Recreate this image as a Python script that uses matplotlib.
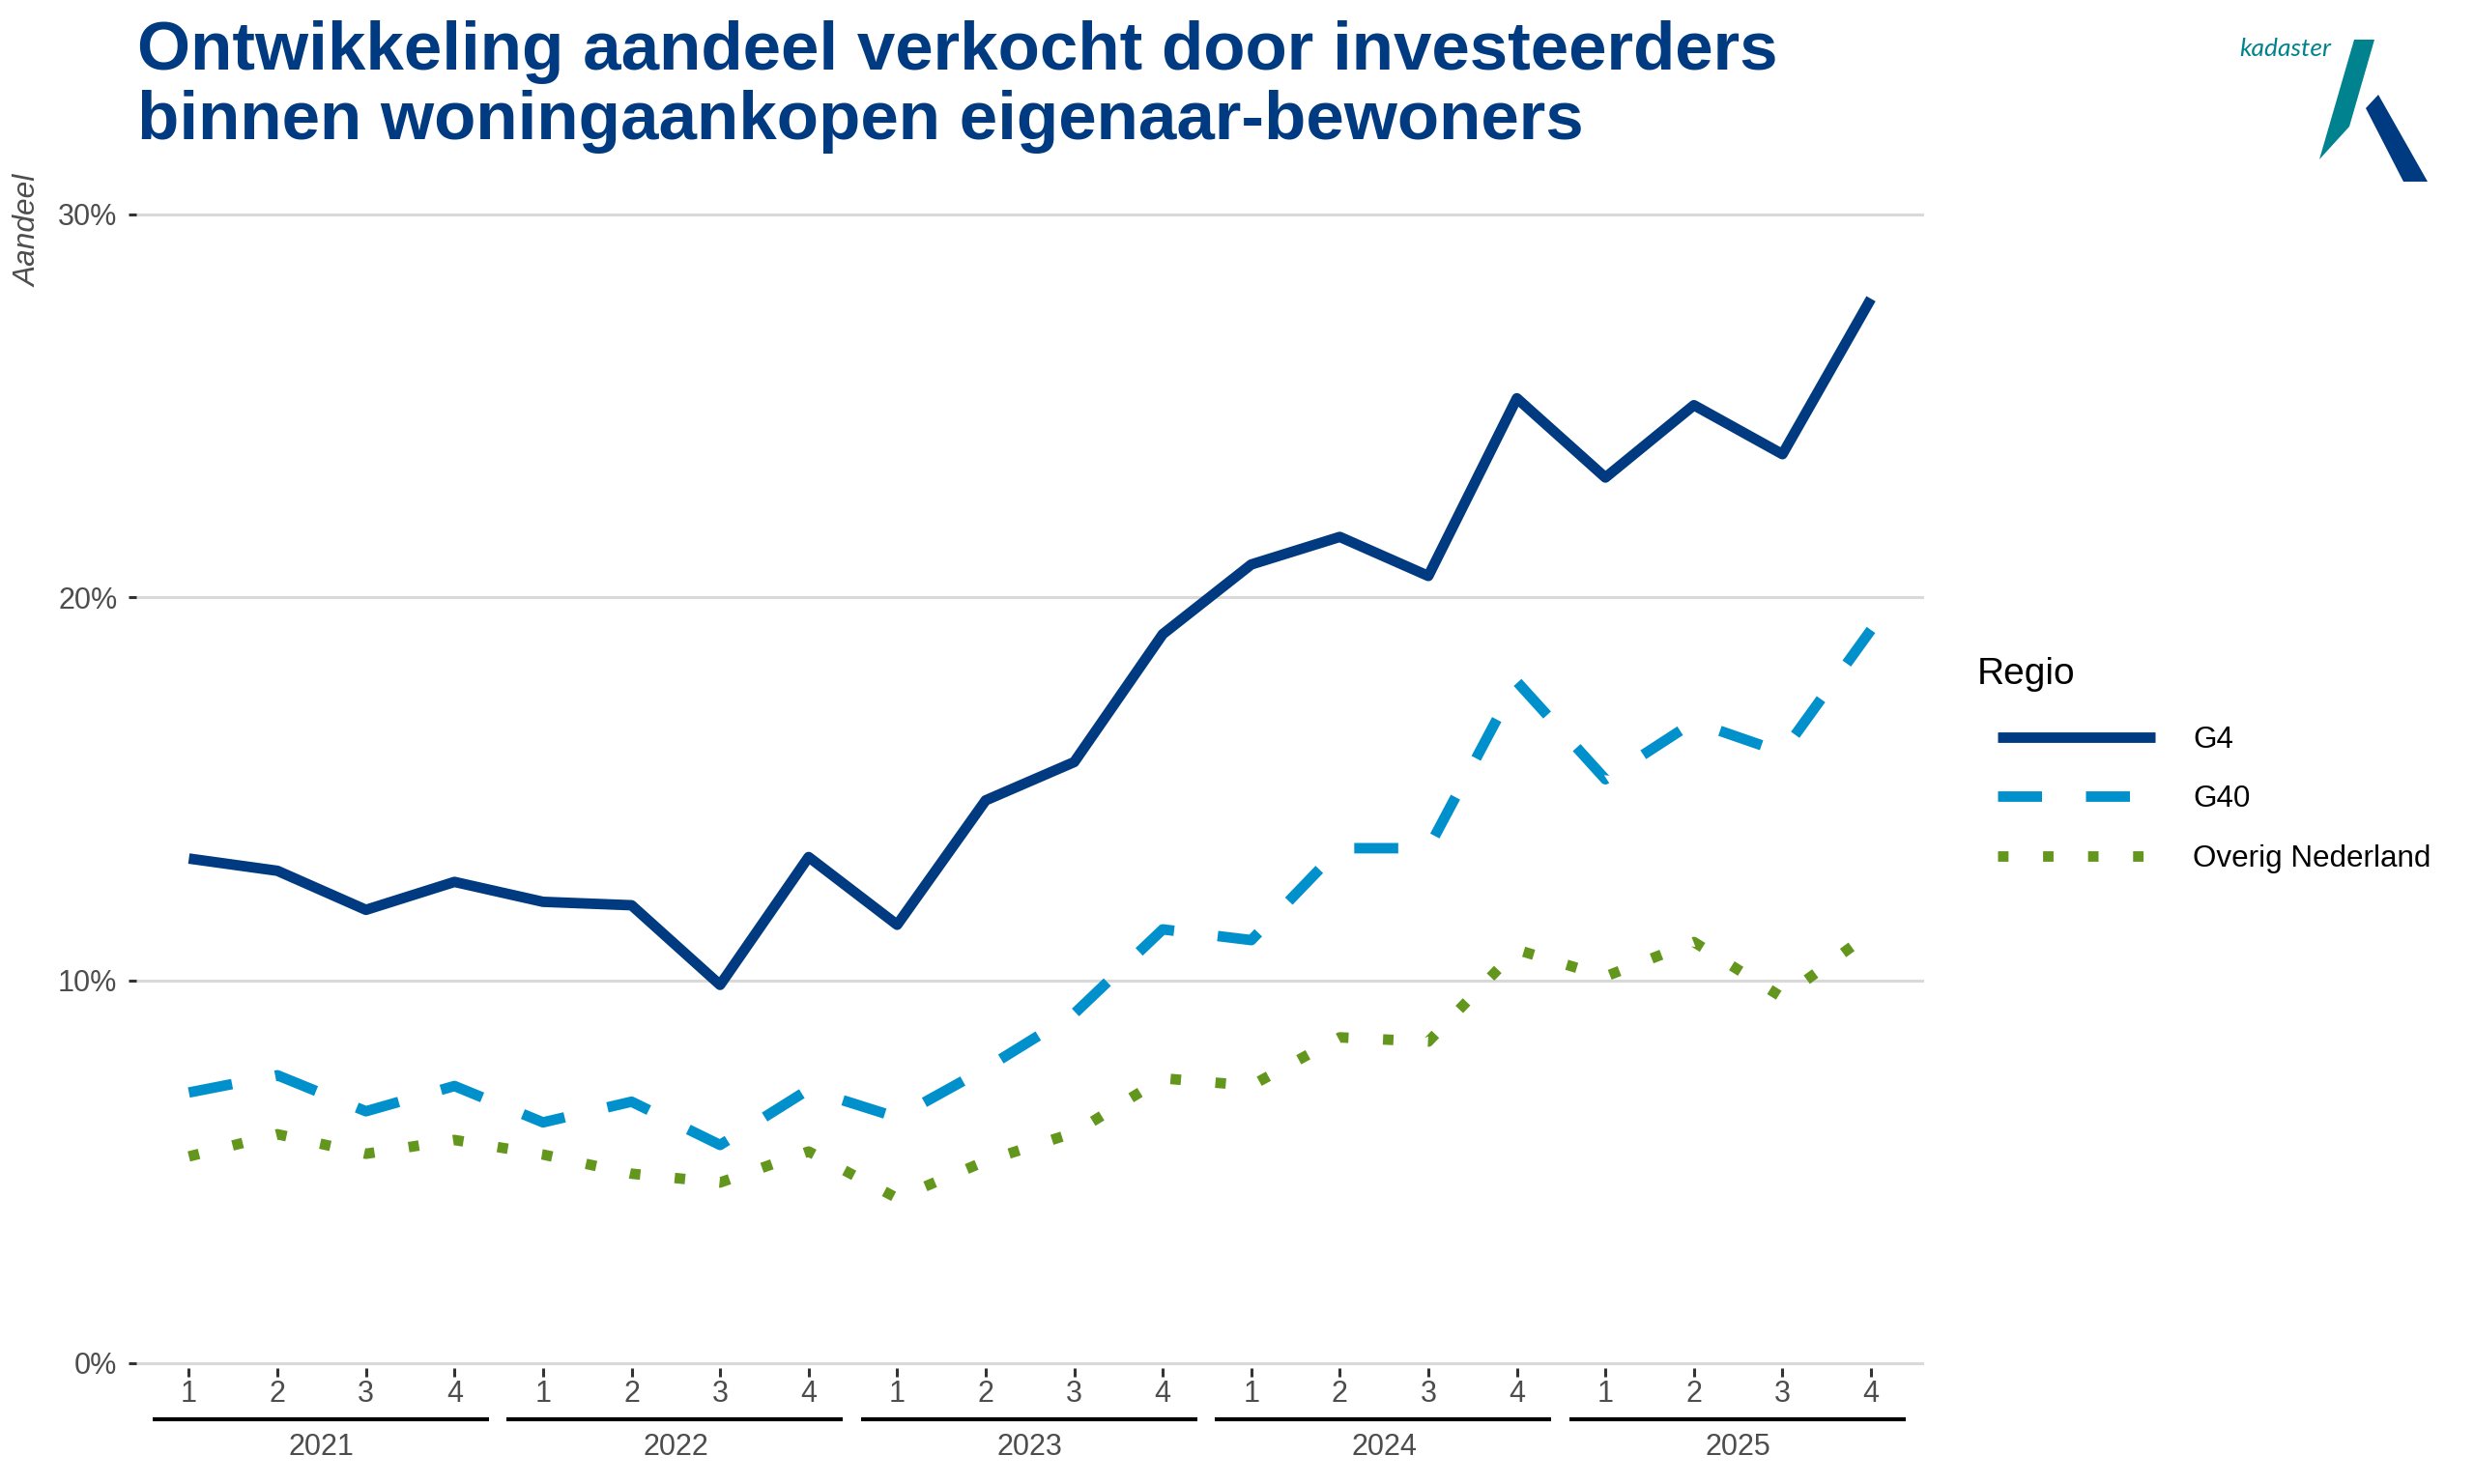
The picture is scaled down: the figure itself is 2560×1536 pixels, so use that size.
import numpy as np
import matplotlib
matplotlib.use("Agg")
import matplotlib.pyplot as plt
from matplotlib import transforms
from matplotlib.patches import Polygon
from matplotlib.ticker import FuncFormatter

plt.rcParams['font.family'] = ['Liberation Sans', 'DejaVu Sans']

# ---------------- data ----------------
years = ["2021", "2022", "2023", "2024", "2025"]
quarters = ["1", "2", "3", "4"]
g4 = [13.18, 12.86, 11.84, 12.57, 12.05, 11.96, 9.88, 13.22, 11.45, 14.70,
      15.70, 19.04, 20.86, 21.58, 20.56, 25.20, 23.13, 25.02, 23.74, 27.80]
g40 = [7.07, 7.52, 6.58, 7.24, 6.29, 6.83, 5.70, 7.15, 6.42, 7.70,
       9.13, 11.33, 11.05, 13.45, 13.45, 17.80, 15.25, 16.75, 15.95, 19.15]
overig = [5.40, 5.98, 5.47, 5.83, 5.45, 4.95, 4.72, 5.53, 4.31, 5.28,
          6.02, 7.44, 7.25, 8.51, 8.40, 10.80, 10.10, 11.00, 9.55, 11.25]
series_names = ["G4", "G40", "Overig Nederland"]
y_ticks = [0, 10, 20, 30]

title_lines = ["Ontwikkeling aandeel verkocht door investeerders",
               "binnen woningaankopen eigenaar-bewoners"]

NAVY = "#003A80"
LIGHTBLUE = "#0090CC"
GREEN = "#63961C"
TEAL = "#00838F"
GREY_TXT = "#4D4D4D"

W, H = 2560, 1536
fig = plt.figure(figsize=(W / 200, H / 200), dpi=200)

# overlay for logo (pixel coordinates)
lay = fig.add_axes([0, 0, 1, 1])
lay.set_xlim(0, W)
lay.set_ylim(H, 0)
lay.axis("off")
lay.patch.set_visible(False)
lay.add_patch(Polygon([(2436, 41), (2457, 41), (2431, 131), (2400, 165)],
                      closed=True, facecolor=TEAL, edgecolor="none"))
lay.add_patch(Polygon([(2448, 112), (2461, 98), (2512, 188), (2487, 188)],
                      closed=True, facecolor=NAVY, edgecolor="none"))
lay.text(2317, 58, "kadaster", color=TEAL, fontsize=9.5, style="italic",
         family=["Lato", "DejaVu Sans"], va="baseline", ha="left")

# main axes
x_left_px, x_right_px = 140.5, 1991
y0_px, y30_px = 1411, 222
ppu = (y0_px - y30_px) / 30.0
ylo, yhi = -0.12, 30.12
bot_px = y0_px - ylo * ppu
top_px = y30_px - (yhi - 30) * ppu
ax = fig.add_axes([x_left_px / W, 1 - bot_px / H,
                   (x_right_px - x_left_px) / W, (bot_px - top_px) / H])

n = len(years) * len(quarters)
x = np.arange(n)
lw = 3.9
l1, = ax.plot(x, g4, color=NAVY, lw=lw, solid_capstyle="butt",
              solid_joinstyle="round", label=series_names[0])
l2, = ax.plot(x, g40, color=LIGHTBLUE, lw=lw, linestyle=(0, (4.2, 4.2)),
              dash_capstyle="butt", dash_joinstyle="round", label=series_names[1])
l3, = ax.plot(x, overig, color=GREEN, lw=lw, linestyle=(0, (1.0, 3.3)),
              dash_capstyle="butt", label=series_names[2])

ax.set_xlim(-0.6, n - 1 + 0.6)
ax.set_ylim(ylo, yhi)
for s in ax.spines.values():
    s.set_visible(False)
ax.set_yticks(y_ticks)
ax.yaxis.set_major_formatter(FuncFormatter(lambda v, p: f"{v:.0f}%"))
ax.grid(axis="y", color="#D9D9D9", lw=1.1)
ax.set_axisbelow(True)
ax.set_xticks(x)
ax.set_xticklabels(quarters * len(years))
ax.tick_params(axis="y", length=2.9, width=1.1, color="#333333", pad=4,
               labelsize=11, labelcolor=GREY_TXT)
ax.tick_params(axis="x", length=3.2, width=1.1, color="#333333", pad=1.2,
               labelsize=11, labelcolor=GREY_TXT)

# y-axis label
fig.text(30 / W, 1 - 181 / H, "Aandeel", rotation=90, style="italic",
         color=GREY_TXT, fontsize=11.4, ha="center", va="top")

# year groups under the axis
trans = transforms.blended_transform_factory(ax.transData, fig.transFigure)
for i, yr in enumerate(years):
    a = i * len(quarters)
    b = a + len(quarters) - 1
    ax.plot([a - 0.41, b + 0.39], [1 - 1469 / H] * 2, transform=trans,
            color="black", lw=1.5, clip_on=False, solid_capstyle="butt")
    ax.text((a + b) / 2, 1 - 1498 / H, yr, transform=trans, ha="center",
            va="center", fontsize=11, color=GREY_TXT)

# title
fig.text(142 / W, 1 - 72 / H, title_lines[0], fontsize=25.5, fontweight="bold",
         color=NAVY, va="baseline", ha="left")
fig.text(142 / W, 1 - 144 / H, title_lines[1], fontsize=25.5, fontweight="bold",
         color=NAVY, va="baseline", ha="left")

# legend
fig.text(2046 / W, 1 - 698 / H, "Regio", fontsize=14, color="black",
         ha="left", va="center")
leg = ax.legend(handles=[l1, l2, l3], loc="upper left",
                bbox_to_anchor=(2067 / W, 1 - 751 / H),
                bbox_transform=fig.transFigure, frameon=False, fontsize=11.3,
                handlelength=5.2, handletextpad=1.25, labelspacing=1.0,
                borderpad=0, borderaxespad=0)

fig.savefig("out.png", dpi=200, facecolor="white")
